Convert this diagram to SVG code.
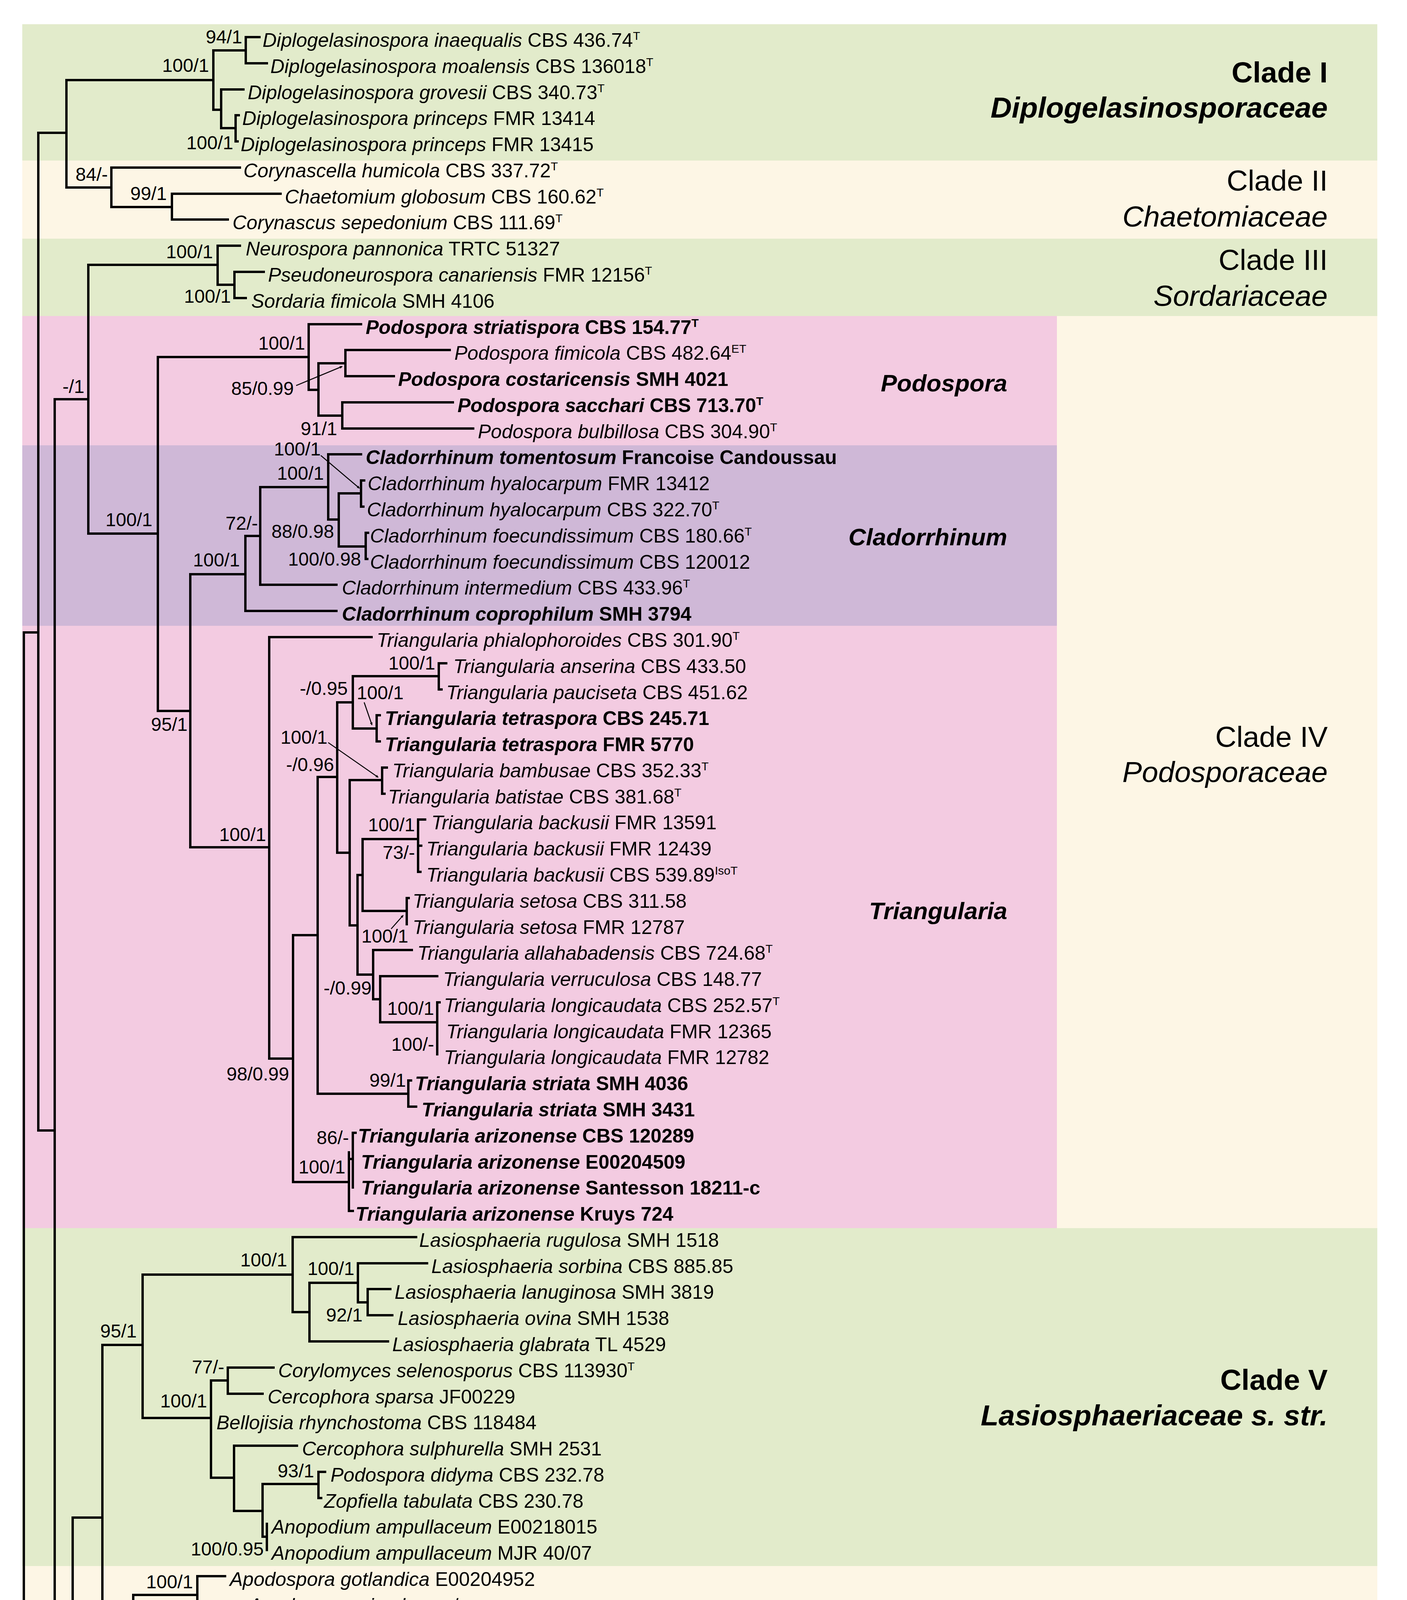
<svg xmlns="http://www.w3.org/2000/svg" width="3601" height="5106" viewBox="0 0 3601 5106">
<defs>
<style>
.tree{fill:none;stroke:#000;stroke-width:6;stroke-linecap:square}
.thin{fill:none;stroke:#000;stroke-width:2.5;marker-end:url(#ah)}
.t{font-family:"Liberation Sans",Arial,sans-serif;font-size:50px;fill:#000}
.i{font-style:italic}
.b{font-weight:bold}
.sup{font-size:30px}
.s{font-family:"Liberation Sans",Arial,sans-serif;font-size:48px;fill:#000;text-anchor:end}
.c{font-family:"Liberation Sans",Arial,sans-serif;font-size:75px;fill:#000;text-anchor:end}
.g{font-family:"Liberation Sans",Arial,sans-serif;font-size:62px;font-weight:bold;font-style:italic;fill:#000;text-anchor:end}
</style>
<marker id="ah" viewBox="0 0 10 10" refX="9" refY="5" markerWidth="7" markerHeight="7" orient="auto" markerUnits="userSpaceOnUse">
<path d="M0,0 L10,5 L0,10 z" fill="#000"/>
</marker>
</defs>
<rect width="3601" height="5106" fill="#fff"/>
<g id="backgrounds">
<rect x="57" y="62" width="3468" height="349" fill="#E2EBCB"/>
<rect x="57" y="411" width="3468" height="200" fill="#FDF6E5"/>
<rect x="57" y="611" width="3468" height="198" fill="#E2EBCB"/>
<rect x="57" y="809" width="3468" height="2335" fill="#FDF6E5"/>
<rect x="57" y="809" width="2648" height="331" fill="#F3CBE1"/>
<rect x="57" y="1140" width="2648" height="462" fill="#CFB8D7"/>
<rect x="57" y="1602" width="2648" height="1542" fill="#F3CBE1"/>
<rect x="57" y="3144" width="3468" height="865" fill="#E2EBCB"/>
<rect x="57" y="4009" width="3468" height="1006" fill="#FDF6E5"/>
</g>
<g id="connectors">
<path class="tree" d="M61,1619 V4995 M61,1619 H98 M98,340 V2894 M98,2894 H140 M140,1022 V4768 M140,4768 H186 M186,3885 V4995 M186,3885 H262
M98,340 H170 M170,205 V480 M170,205 H546 M546,129 V281 M546,129 H629 M629,95 V162 M629,95 H664 M629,162 H683 M546,281 H566 M566,229 V328 M566,229 H623 M566,328 H603 M603,295 V362 M603,295 H611 M603,362 H608 M170,480 H285 M285,429 V530 M285,429 H614 M285,530 H440 M440,496 V562 M440,496 H718 M440,562 H583
M140,1022 H226 M226,678 V1366 M226,678 H557 M557,629 V729 M557,629 H614 M557,729 H600 M600,696 V763 M600,696 H675 M600,763 H629 M226,1366 H404 M404,914 V1820 M404,914 H790 M790,830 V998 M790,830 H924 M790,998 H815 M815,930 V1064 M815,930 H884 M884,896 V963 M884,896 H1151 M884,963 H1008 M815,1064 H876 M876,1030 V1097 M876,1030 H1159 M876,1097 H1211
M404,1820 H487 M487,1470 V2169 M487,1470 H628 M628,1372 V1564 M628,1372 H666 M628,1564 H861 M666,1247 V1497 M666,1247 H840 M666,1497 H861 M840,1163 V1330 M840,1163 H924 M840,1330 H867 M867,1263 V1399 M867,1263 H924 M924,1230 V1297 M924,1230 H932 M924,1297 H930 M867,1399 H936 M936,1364 V1431 M936,1364 H942 M936,1431 H940
M487,2169 H689 M689,1631 V2710 M689,1631 H951 M689,2710 H750 M750,2394 V3026 M750,2394 H813 M813,1989 V2800 M813,1989 H863 M863,1798 V2183 M863,1798 H903 M903,1731 V1865 M903,1731 H1123 M1123,1698 V1765 M1123,1698 H1142 M1123,1765 H1130 M903,1865 H964 M964,1831 V1898 M964,1831 H972 M964,1898 H972 M863,2183 H895 M895,1997 V2369 M895,1997 H978 M978,1965 V2032 M978,1965 H990 M978,2032 H984 M895,2369 H915 M915,2240 V2495 M915,2240 H928 M928,2148 V2332 M928,2148 H1070 M1070,2098 V2232 M1070,2098 H1088 M1070,2165 H1078 M1070,2232 H1076 M928,2332 H1041 M1041,2299 V2366 M1041,2299 H1046 M915,2495 H955 M955,2432 V2558 M955,2432 H1054 M955,2558 H973 M973,2499 V2617 M973,2499 H1119 M973,2617 H1119 M1119,2566 V2699 M1119,2566 H1125 M813,2800 H1045 M1045,2766 V2833 M1045,2766 H1052 M1045,2833 H1065 M750,3026 H893 M893,2950 V3100 M893,3100 H903 M903,2900 V3040 M893,2967 H903 M903,2900 H910
M262,3443 V4326 M262,3443 H365 M365,3263 V3630 M365,3263 H749 M749,3167 V3359 M749,3167 H1065 M749,3359 H792 M792,3284 V3434 M792,3284 H916 M916,3234 V3334 M916,3234 H1093 M916,3334 H941 M941,3300 V3367 M941,3300 H999 M941,3367 H1004 M792,3434 H993 M365,3630 H540 M540,3534 V3783 M540,3534 H583 M583,3501 V3568 M583,3501 H700 M583,3568 H672 M540,3783 H599 M599,3701 V3868 M599,3701 H760 M599,3868 H672 M672,3799 V3934 M672,3799 H815 M815,3768 V3835 M815,3768 H832 M815,3835 H822 M672,3934 H683 M683,3901 V3968
M262,4326 H341 M341,4083 V4774 M341,4083 H505 M505,4035 V4133 M505,4035 H576 M505,4133 H623 M623,4102 V4169 M341,4359 H835 M835,4284 V4436 M835,4284 H918 M918,4235 V4333 M918,4235 H930 M918,4333 H936 M936,4302 V4369 M835,4436 H898 M341,4774 H394 M394,4660 V4886 M394,4660 H519 M519,4584 V4737 M519,4584 H959 M959,4536 V4636 M959,4536 H984 M984,4502 V4569 M959,4636 H1004 M519,4737 H878 M878,4703 V4770 M878,4703 H915 M878,4770 H909 M394,4886 H459 M459,4836 V4936 M459,4836 H869 M459,4936 H672 M672,4903 V4970 M672,4903 H763 M672,4970 H752"/>
<path d="M61,5030 L36,4971 L61,5000 L86,4971 Z M186,5030 L161,4971 L186,5000 L211,4971 Z" fill="#000"/>
<path class="thin" d="M758,987 L876,938"/>
<path class="thin" d="M821,1166 L920,1250"/>
<path class="thin" d="M932,1798 L952,1856"/>
<path class="thin" d="M840,1901 L968,1990"/>
<path class="thin" d="M1001,2378 L1032,2343"/>
<path class="thin" d="M809,4396 L922,4345"/>
</g>
<g id="taxa">
<g id="n0"><text class="t" x="672" y="120"><tspan class="i">Diplogelasinospora inaequalis</tspan> CBS 436.74<tspan class="sup" dy="-18">T</tspan></text></g>
<g id="n1"><text class="t" x="692" y="187"><tspan class="i">Diplogelasinospora moalensis</tspan> CBS 136018<tspan class="sup" dy="-18">T</tspan></text></g>
<g id="n2"><text class="t" x="634" y="254"><tspan class="i">Diplogelasinospora grovesii</tspan> CBS 340.73<tspan class="sup" dy="-18">T</tspan></text></g>
<g id="n3"><text class="t" x="620" y="320"><tspan class="i">Diplogelasinospora princeps</tspan> FMR 13414</text></g>
<g id="n4"><text class="t" x="616" y="387"><tspan class="i">Diplogelasinospora princeps</tspan> FMR 13415</text></g>
<g id="n5"><text class="t" x="623" y="454"><tspan class="i">Corynascella humicola</tspan> CBS 337.72<tspan class="sup" dy="-18">T</tspan></text></g>
<g id="n6"><text class="t" x="729" y="521"><tspan class="i">Chaetomium globosum</tspan> CBS 160.62<tspan class="sup" dy="-18">T</tspan></text></g>
<g id="n7"><text class="t" x="595" y="587"><tspan class="i">Corynascus sepedonium</tspan> CBS 111.69<tspan class="sup" dy="-18">T</tspan></text></g>
<g id="n8"><text class="t" x="629" y="654"><tspan class="i">Neurospora pannonica</tspan> TRTC 51327</text></g>
<g id="n9"><text class="t" x="686" y="721"><tspan class="i">Pseudoneurospora canariensis</tspan> FMR 12156<tspan class="sup" dy="-18">T</tspan></text></g>
<g id="n10"><text class="t" x="643" y="788"><tspan class="i">Sordaria fimicola</tspan> SMH 4106</text></g>
<g id="n11"><text class="t b" x="936" y="855"><tspan class="i">Podospora striatispora</tspan> CBS 154.77<tspan class="sup" dy="-18">T</tspan></text></g>
<g id="n12"><text class="t" x="1163" y="921"><tspan class="i">Podospora fimicola</tspan> CBS 482.64<tspan class="sup" dy="-18">ET</tspan></text></g>
<g id="n13"><text class="t b" x="1019" y="988"><tspan class="i">Podospora costaricensis</tspan> SMH 4021</text></g>
<g id="n14"><text class="t b" x="1171" y="1055"><tspan class="i">Podospora sacchari</tspan> CBS 713.70<tspan class="sup" dy="-18">T</tspan></text></g>
<g id="n15"><text class="t" x="1223" y="1122"><tspan class="i">Podospora bulbillosa</tspan> CBS 304.90<tspan class="sup" dy="-18">T</tspan></text></g>
<g id="n16"><text class="t b" x="936" y="1188"><tspan class="i">Cladorrhinum tomentosum</tspan> Francoise Candoussau</text></g>
<g id="n17"><text class="t" x="941" y="1255"><tspan class="i">Cladorrhinum hyalocarpum</tspan> FMR 13412</text></g>
<g id="n18"><text class="t" x="939" y="1322"><tspan class="i">Cladorrhinum hyalocarpum</tspan> CBS 322.70<tspan class="sup" dy="-18">T</tspan></text></g>
<g id="n19"><text class="t" x="947" y="1389"><tspan class="i">Cladorrhinum foecundissimum</tspan> CBS 180.66<tspan class="sup" dy="-18">T</tspan></text></g>
<g id="n20"><text class="t" x="947" y="1456"><tspan class="i">Cladorrhinum foecundissimum</tspan> CBS 120012</text></g>
<g id="n21"><text class="t" x="875" y="1522"><tspan class="i">Cladorrhinum intermedium</tspan> CBS 433.96<tspan class="sup" dy="-18">T</tspan></text></g>
<g id="n22"><text class="t b" x="875" y="1589"><tspan class="i">Cladorrhinum coprophilum</tspan> SMH 3794</text></g>
<g id="n23"><text class="t" x="964" y="1656"><tspan class="i">Triangularia phialophoroides</tspan> CBS 301.90<tspan class="sup" dy="-18">T</tspan></text></g>
<g id="n24"><text class="t" x="1160" y="1723"><tspan class="i">Triangularia anserina</tspan> CBS 433.50</text></g>
<g id="n25"><text class="t" x="1142" y="1790"><tspan class="i">Triangularia pauciseta</tspan> CBS 451.62</text></g>
<g id="n26"><text class="t b" x="985" y="1856"><tspan class="i">Triangularia tetraspora</tspan> CBS 245.71</text></g>
<g id="n27"><text class="t b" x="985" y="1923"><tspan class="i">Triangularia tetraspora</tspan> FMR 5770</text></g>
<g id="n28"><text class="t" x="1004" y="1990"><tspan class="i">Triangularia bambusae</tspan> CBS 352.33<tspan class="sup" dy="-18">T</tspan></text></g>
<g id="n29"><text class="t" x="993" y="2057"><tspan class="i">Triangularia batistae</tspan> CBS 381.68<tspan class="sup" dy="-18">T</tspan></text></g>
<g id="n30"><text class="t" x="1104" y="2123"><tspan class="i">Triangularia backusii</tspan> FMR 13591</text></g>
<g id="n31"><text class="t" x="1091" y="2190"><tspan class="i">Triangularia backusii</tspan> FMR 12439</text></g>
<g id="n32"><text class="t" x="1091" y="2257"><tspan class="i">Triangularia backusii</tspan> CBS 539.89<tspan class="sup" dy="-18">IsoT</tspan></text></g>
<g id="n33"><text class="t" x="1056" y="2324"><tspan class="i">Triangularia setosa</tspan> CBS 311.58</text></g>
<g id="n34"><text class="t" x="1056" y="2391"><tspan class="i">Triangularia setosa</tspan> FMR 12787</text></g>
<g id="n35"><text class="t" x="1068" y="2457"><tspan class="i">Triangularia allahabadensis</tspan> CBS 724.68<tspan class="sup" dy="-18">T</tspan></text></g>
<g id="n36"><text class="t" x="1134" y="2524"><tspan class="i">Triangularia verruculosa</tspan> CBS 148.77</text></g>
<g id="n37"><text class="t" x="1136" y="2591"><tspan class="i">Triangularia longicaudata</tspan> CBS 252.57<tspan class="sup" dy="-18">T</tspan></text></g>
<g id="n38"><text class="t" x="1142" y="2658"><tspan class="i">Triangularia longicaudata</tspan> FMR 12365</text></g>
<g id="n39"><text class="t" x="1136" y="2724"><tspan class="i">Triangularia longicaudata</tspan> FMR 12782</text></g>
<g id="n40"><text class="t b" x="1062" y="2791"><tspan class="i">Triangularia striata</tspan> SMH 4036</text></g>
<g id="n41"><text class="t b" x="1079" y="2858"><tspan class="i">Triangularia striata</tspan> SMH 3431</text></g>
<g id="n42"><text class="t b" x="916" y="2925"><tspan class="i">Triangularia arizonense</tspan> CBS 120289</text></g>
<g id="n43"><text class="t b" x="924" y="2992"><tspan class="i">Triangularia arizonense</tspan> E00204509</text></g>
<g id="n44"><text class="t b" x="924" y="3058"><tspan class="i">Triangularia arizonense</tspan> Santesson 18211-c</text></g>
<g id="n45"><text class="t b" x="910" y="3125"><tspan class="i">Triangularia arizonense</tspan> Kruys 724</text></g>
<g id="n46"><text class="t" x="1073" y="3192"><tspan class="i">Lasiosphaeria rugulosa</tspan> SMH 1518</text></g>
<g id="n47"><text class="t" x="1104" y="3259"><tspan class="i">Lasiosphaeria sorbina</tspan> CBS 885.85</text></g>
<g id="n48"><text class="t" x="1010" y="3325"><tspan class="i">Lasiosphaeria lanuginosa</tspan> SMH 3819</text></g>
<g id="n49"><text class="t" x="1018" y="3392"><tspan class="i">Lasiosphaeria ovina</tspan> SMH 1538</text></g>
<g id="n50"><text class="t" x="1004" y="3459"><tspan class="i">Lasiosphaeria glabrata</tspan> TL 4529</text></g>
<g id="n51"><text class="t" x="712" y="3526"><tspan class="i">Corylomyces selenosporus</tspan> CBS 113930<tspan class="sup" dy="-18">T</tspan></text></g>
<g id="n52"><text class="t" x="685" y="3593"><tspan class="i">Cercophora sparsa</tspan> JF00229</text></g>
<g id="n53"><text class="t" x="554" y="3659"><tspan class="i">Bellojisia rhynchostoma</tspan> CBS 118484</text></g>
<g id="n54"><text class="t" x="773" y="3726"><tspan class="i">Cercophora sulphurella</tspan> SMH 2531</text></g>
<g id="n55"><text class="t" x="846" y="3793"><tspan class="i">Podospora didyma</tspan> CBS 232.78</text></g>
<g id="n56"><text class="t" x="829" y="3860"><tspan class="i">Zopfiella tabulata</tspan> CBS 230.78</text></g>
<g id="n57"><text class="t" x="695" y="3926"><tspan class="i">Anopodium ampullaceum</tspan> E00218015</text></g>
<g id="n58"><text class="t" x="695" y="3993"><tspan class="i">Anopodium ampullaceum</tspan> MJR 40/07</text></g>
<g id="n59"><text class="t" x="588" y="4060"><tspan class="i">Apodospora gotlandica</tspan> E00204952</text></g>
<g id="n60"><text class="t" x="637" y="4127"><tspan class="i">Apodospora simulans</tspan> n/a</text></g>
<g id="n61"><text class="t" x="637" y="4194"><tspan class="i">Apodospora simulans</tspan> Kruys 701</text></g>
<g id="n62"><text class="t" x="941" y="4260"><tspan class="i">Bombardia bombarda</tspan> AR 1903</text></g>
<g id="n63"><text class="t" x="956" y="4327"><tspan class="i">Bombardia bombarda</tspan> SMH 3391</text></g>
<g id="n64"><text class="t" x="951" y="4394"><tspan class="i">Bombardia bombarda</tspan> SMH 4821</text></g>
<g id="n65"><text class="t" x="913" y="4461"><tspan class="i">Bombardioidea anartia</tspan> HHB99-1</text></g>
<g id="n66"><text class="t" x="995" y="4527"><tspan class="i">Podospora fibrinocaudata</tspan> TRTC 48343</text></g>
<g id="n67"><text class="t" x="995" y="4594"><tspan class="i">Podospora fibrinocaudata</tspan> CBS 315.91<tspan class="sup" dy="-18">T</tspan></text></g>
<g id="n68"><text class="t" x="1018" y="4661"><tspan class="i">Podospora fabiformis</tspan> CBS 112043<tspan class="sup" dy="-18">T</tspan></text></g>
<g id="n69"><text class="t" x="926" y="4728"><tspan class="i">Zopfiella attenuata</tspan> CBS 266.77<tspan class="sup" dy="-18">T</tspan></text></g>
<g id="n70"><text class="t" x="921" y="4795"><tspan class="i">Zopfiella pleuropora</tspan> CBS 518.70<tspan class="sup" dy="-18">T</tspan></text></g>
<g id="n71"><text class="t" x="880" y="4861"><tspan class="i">Fimetariella rabenhorstii</tspan> Lundqvist 20410-c</text></g>
<g id="n72"><text class="t" x="777" y="4928"><tspan class="i">Cercophora scortea</tspan> GJS L556</text></g>
<g id="n73"><text class="t" x="763" y="4995"><tspan class="i">Podospora appendiculata</tspan> CBS 212.97</text></g>
</g>
<g id="support">
<text class="s" x="620" y="111">94/1</text>
<text class="s" x="535" y="184">100/1</text>
<text class="s" x="597" y="382">100/1</text>
<text class="s" x="276" y="463">84/-</text>
<text class="s" x="427" y="512">99/1</text>
<text class="s" x="545" y="661">100/1</text>
<text class="s" x="591" y="775">100/1</text>
<text class="s" x="216" y="1006">-/1</text>
<text class="s" x="390" y="1347">100/1</text>
<text class="s" x="781" y="895">100/1</text>
<text class="s" x="752" y="1011">85/0.99</text>
<text class="s" x="863" y="1114">91/1</text>
<text class="s" x="821" y="1166">100/1</text>
<text class="s" x="829" y="1228">100/1</text>
<text class="s" x="660" y="1356">72/-</text>
<text class="s" x="855" y="1377">88/0.98</text>
<text class="s" x="924" y="1448">100/0.98</text>
<text class="s" x="614" y="1450">100/1</text>
<text class="s" x="480" y="1871">95/1</text>
<text class="s" x="681" y="2153">100/1</text>
<text class="s" x="1114" y="1714">100/1</text>
<text class="s" x="890" y="1779">-/0.95</text>
<text class="s" x="1033" y="1790">100/1</text>
<text class="s" x="838" y="1904">100/1</text>
<text class="s" x="855" y="1974">-/0.96</text>
<text class="s" x="1062" y="2128">100/1</text>
<text class="s" x="1062" y="2199">73/-</text>
<text class="s" x="1045" y="2413">100/1</text>
<text class="s" x="951" y="2546">-/0.99</text>
<text class="s" x="1111" y="2598">100/1</text>
<text class="s" x="1111" y="2690">100/-</text>
<text class="s" x="740" y="2766">98/0.99</text>
<text class="s" x="1039" y="2782">99/1</text>
<text class="s" x="893" y="2929">86/-</text>
<text class="s" x="884" y="3004">100/1</text>
<text class="s" x="735" y="3242">100/1</text>
<text class="s" x="907" y="3264">100/1</text>
<text class="s" x="928" y="3383">92/1</text>
<text class="s" x="350" y="3424">95/1</text>
<text class="s" x="574" y="3516">77/-</text>
<text class="s" x="530" y="3603">100/1</text>
<text class="s" x="804" y="3782">93/1</text>
<text class="s" x="675" y="3982">100/0.95</text>
<text class="s" x="494" y="4066">100/1</text>
<text class="s" x="614" y="4184">100/1</text>
<text class="s" x="907" y="4263">100/1</text>
<text class="s" x="824" y="4339">100/1</text>
<text class="s" x="804" y="4428">100/1</text>
<text class="s" x="967" y="4518">100/0.95</text>
<text class="s" x="951" y="4566">100/1</text>
<text class="s" x="511" y="4643">83/1</text>
<text class="s" x="870" y="4717">100/1</text>
<text class="s" x="660" y="4917">100/1</text>
</g>
<g id="clade-labels">
<g id="cladeI"><text class="c b" x="3398" y="211">Clade I</text><text class="c b i" x="3398" y="301">Diplogelasinosporaceae</text></g>
<g id="cladeII"><text class="c" x="3398" y="488">Clade II</text><text class="c i" x="3398" y="580">Chaetomiaceae</text></g>
<g id="cladeIII"><text class="c" x="3398" y="691">Clade III</text><text class="c i" x="3398" y="783">Sordariaceae</text></g>
<g id="cladeIV"><text class="c" x="3398" y="1912">Clade IV</text><text class="c i" x="3398" y="2002">Podosporaceae</text></g>
<g id="cladeV"><text class="c b" x="3398" y="3558">Clade V</text><text class="c b i" x="3398" y="3649">Lasiosphaeriaceae s. str.</text></g>
<g id="cladeVI"><text class="c" x="3398" y="4512">Clade VI</text><text class="c i" x="3398" y="4602">“Lasiosphaeriaceae”</text></g>
<g id="genus-podospora"><text class="g" x="2578" y="1002">Podospora</text></g>
<g id="genus-cladorrhinum"><text class="g" x="2578" y="1396">Cladorrhinum</text></g>
<g id="genus-triangularia"><text class="g" x="2578" y="2353">Triangularia</text></g>
</g>
</svg>
